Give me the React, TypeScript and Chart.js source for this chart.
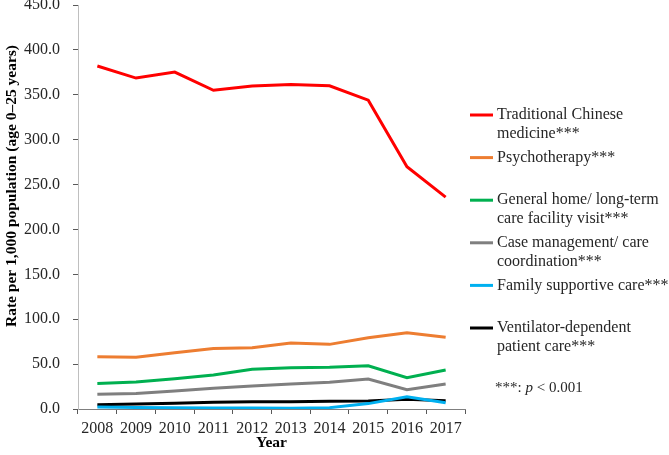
import React, { useEffect, useRef } from "react";
import { Chart, registerables } from "chart.js";

Chart.register(...registerables);

const years = ["2008", "2009", "2010", "2011", "2012", "2013", "2014", "2015", "2016", "2017"];
const tcm = [382, 368.6, 375.3, 355, 359.7, 361.5, 360, 344, 269.8, 236];
const psychotherapy = [58.3, 57.6, 62.7, 67.5, 68.3, 73.5, 72, 79.4, 85, 79.8];
const homeVisit = [28.5, 30, 33.8, 37.9, 44.2, 46, 46.4, 48.2, 34.9, 43.4];
const caseManagement = [16.3, 17.4, 20, 23, 25.6, 27.8, 29.7, 33.4, 21.5, 27.8];
const familyCare = [2.2, 1.8, 1.5, 1.2, 1.0, 0.8, 1.5, 6.0, 13.7, 7.0];
const ventilator = [4.8, 5.5, 6.5, 7.5, 8.0, 8.2, 8.5, 9.0, 10.8, 9.3];

const seriesLabels: string[][] = [
  ["Traditional Chinese", "medicine***"],
  ["Psychotherapy***"],
  ["General home/ long-term", "care facility visit***"],
  ["Case management/ care", "coordination***"],
  ["Family supportive care***"],
  ["Ventilator-dependent", "patient care***"],
];
const seriesColors = ["#ff0000", "#ed7d31", "#00b050", "#7f7f7f", "#00b0f0", "#000000"];
const seriesData = [tcm, psychotherapy, homeVisit, caseManagement, familyCare, ventilator];

const yTitle = "Rate per 1,000 population (age 0–25 years)";
const xTitle = "Year";
const yMin = 0;
const yMax = 450;
const yStep = 50;

const FONT = "'Liberation Serif', 'Times New Roman', serif";

const customDraw = {
  id: "customDraw",
  afterDraw(chart: any) {
    const ctx: CanvasRenderingContext2D = chart.ctx;
    const area = chart.chartArea;
    ctx.save();
    // Y axis title
    ctx.fillStyle = "#000";
    ctx.font = `bold 15.5px ${FONT}`;
    ctx.textAlign = "center";
    ctx.textBaseline = "middle";
    ctx.translate(12, 186);
    ctx.rotate(-Math.PI / 2);
    ctx.fillText(yTitle, 0, 0);
    ctx.restore();

    // Legend
    ctx.save();
    const lx = area.right + 5;
    const lineLen = 23;
    const tx = lx + lineLen + 4;
    const startY = 115;
    const itemGap = 42.6;
    const lineH = 19;
    ctx.font = `16px ${FONT}`;
    ctx.textAlign = "left";
    ctx.textBaseline = "middle";
    chart.data.datasets.forEach((ds: any, i: number) => {
      const y = startY + itemGap * i;
      ctx.strokeStyle = ds.borderColor;
      ctx.lineWidth = 3;
      ctx.beginPath();
      ctx.moveTo(lx, y);
      ctx.lineTo(lx + lineLen, y);
      ctx.stroke();
      ctx.fillStyle = "#262626";
      seriesLabels[i].forEach((t, k) => ctx.fillText(t, tx, y + k * lineH));
    });
    // Note
    const ny = 388;
    let nx = 495;
    ctx.font = `15px ${FONT}`;
    ctx.fillText("***: ", nx, ny);
    nx += ctx.measureText("***: ").width;
    ctx.font = `italic 15px ${FONT}`;
    ctx.fillText("p", nx, ny);
    nx += ctx.measureText("p").width;
    ctx.font = `15px ${FONT}`;
    ctx.fillText(" < 0.001", nx, ny);
    ctx.restore();
  },
};

export default function App() {
  const ref = useRef<HTMLCanvasElement | null>(null);
  useEffect(() => {
    if (!ref.current) return;
    const chart = new Chart(ref.current, {
      type: "line",
      data: {
        labels: years,
        datasets: seriesData.map((d, i) => ({
          label: seriesLabels[i].join(" "),
          data: d,
          borderColor: seriesColors[i],
          backgroundColor: seriesColors[i],
          borderWidth: 3,
          pointRadius: 0,
          tension: 0,
          fill: false,
        })),
      },
      options: {
        responsive: false,
        animation: false,
        layout: { padding: { top: 5, right: 204, bottom: 0, left: 0 } },
        plugins: { legend: { display: false }, tooltip: { enabled: false } },
        scales: {
          x: {
            type: "category",
            offset: true,
            grid: {
              display: true,
              drawOnChartArea: false,
              drawTicks: true,
              tickLength: 5,
              offset: true,
              color: "#595959",
            },
            border: { display: true, color: "#7f7f7f", width: 1 },
            ticks: {
              font: { family: FONT, size: 16 },
              color: "#262626",
              padding: 5,
              maxRotation: 0,
              autoSkip: false,
            },
            title: {
              display: true,
              text: xTitle,
              font: { family: FONT, size: 15.5, weight: "bold" },
              color: "#000",
              padding: { top: 0, bottom: 3 },
            },
            afterFit: (s: any) => {
              s.height = 46;
              s.paddingLeft = 0;
              s.paddingRight = 0;
            },
          },
          y: {
            min: yMin,
            max: yMax,
            grid: {
              display: true,
              drawOnChartArea: false,
              drawTicks: true,
              tickLength: 5,
              color: "#595959",
            },
            border: { display: true, color: "#bfbfbf", width: 1 },
            ticks: {
              stepSize: yStep,
              font: { family: FONT, size: 16 },
              color: "#262626",
              padding: 13,
              callback: (v: any) => Number(v).toFixed(1),
            },
            afterFit: (s: any) => {
              s.width = 78;
              s.paddingTop = 0;
              s.paddingBottom = 0;
            },
          },
        },
      },
      plugins: [customDraw],
    } as any);
    return () => chart.destroy();
  }, []);
  return (
    <div style={{ position: "fixed", left: 0, top: 0, width: 669, height: 455, background: "#fff" }}>
      <canvas ref={ref} width={669} height={455} />
    </div>
  );
}
